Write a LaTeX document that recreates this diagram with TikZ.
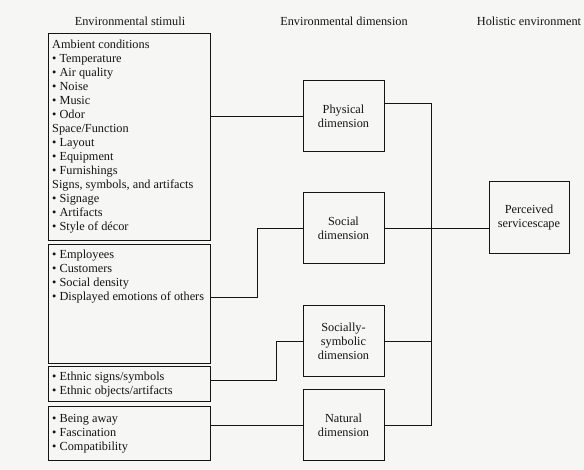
\documentclass[tikz,border=0pt]{standalone}
\usepackage{fontspec}
\setmainfont{Liberation Serif}
\definecolor{bg}{RGB}{246,246,244}
\definecolor{ink}{RGB}{20,20,20}
\newcommand{\dfont}{\fontsize{12.3}{14}\selectfont}
\begin{document}
\begin{tikzpicture}[x=1pt,y=-1pt,
  box/.style={draw=ink, line width=1pt, inner sep=0pt, anchor=north west, minimum width=162pt},
  txt/.style={anchor=north west, align=left, inner xsep=4pt, inner ysep=0pt, font=\dfont, text=ink},
  dimbox/.style={draw=ink, line width=1pt, minimum width=81pt, minimum height=71pt, align=center, font=\dfont, text=ink, inner sep=0pt},
  hdr/.style={anchor=base, font=\dfont, text=ink},
  wire/.style={draw=ink, line width=0.9pt}]
\fill[bg] (0,0) rectangle (584,470);
\useasboundingbox (0,0) rectangle (584,470);
% headers
\node[hdr] (h1) at (130,26) {Environmental stimuli};
\node[hdr] (h2) at (344,26) {Environmental dimension};
\node[hdr] (h3) at (529,26) {Holistic environment};
% stimulus boxes
\node[box, minimum height=207pt] (s1) at (48,33) {};
\node[box, minimum height=119pt] (s2) at (48,244) {};
\node[box, minimum height=35pt] (s3) at (48,366) {};
\node[box, minimum height=54pt] (s4) at (48,406) {};
\node[txt] (t1) at ([yshift=-6.5pt]s1.north west) {Ambient conditions\\• Temperature\\• Air quality\\• Noise\\• Music\\• Odor\\Space/Function\\• Layout\\• Equipment\\• Furnishings\\Signs, symbols, and artifacts\\• Signage\\• Artifacts\\• Style of décor};
\node[txt] (t2) at ([yshift=-5.5pt]s2.north west) {• Employees\\• Customers\\• Social density\\• Displayed emotions of others};
\node[txt] (t3) at ([yshift=-6pt]s3.north west) {• Ethnic signs/symbols\\• Ethnic objects/artifacts};
\node[txt] (t4) at ([yshift=-8pt]s4.north west) {• Being away\\• Fascination\\• Compatibility};
% dimension boxes
\node[dimbox] (phys) at (343.5,116.5) {Physical\\dimension};
\node[dimbox] (soc) at (343.5,228) {Social\\dimension};
\node[dimbox] (sym) at (343.5,341) {Socially-\\symbolic\\dimension};
\node[dimbox] (nat) at (343.5,425) {Natural\\dimension};
\node[dimbox, minimum width=80pt, minimum height=72pt] (perc) at (529,218) {Perceived\\servicescape};
% connector points
\coordinate (s2out) at (210,297);
\coordinate (b2) at (257,297);
\coordinate (s3out) at (210,380);
\coordinate (b3) at (276,380);
\coordinate (bus) at (431,425);
% connectors
\draw[wire] (s1.east |- phys.west) -- (phys.west);
\draw[wire] (s2out) -- (b2) |- (soc.west);
\draw[wire] (s3out) -- (b3) |- (sym.west);
\draw[wire] (s4.east |- nat.west) -- (nat.west);
\draw[wire] ([yshift=13pt]phys.east) -| (bus) -- (nat.east);
\draw[wire] (sym.east) -- (sym.east -| bus);
\draw[wire] (soc.east) -- (perc.west |- soc.east);
\end{tikzpicture}
\end{document}
